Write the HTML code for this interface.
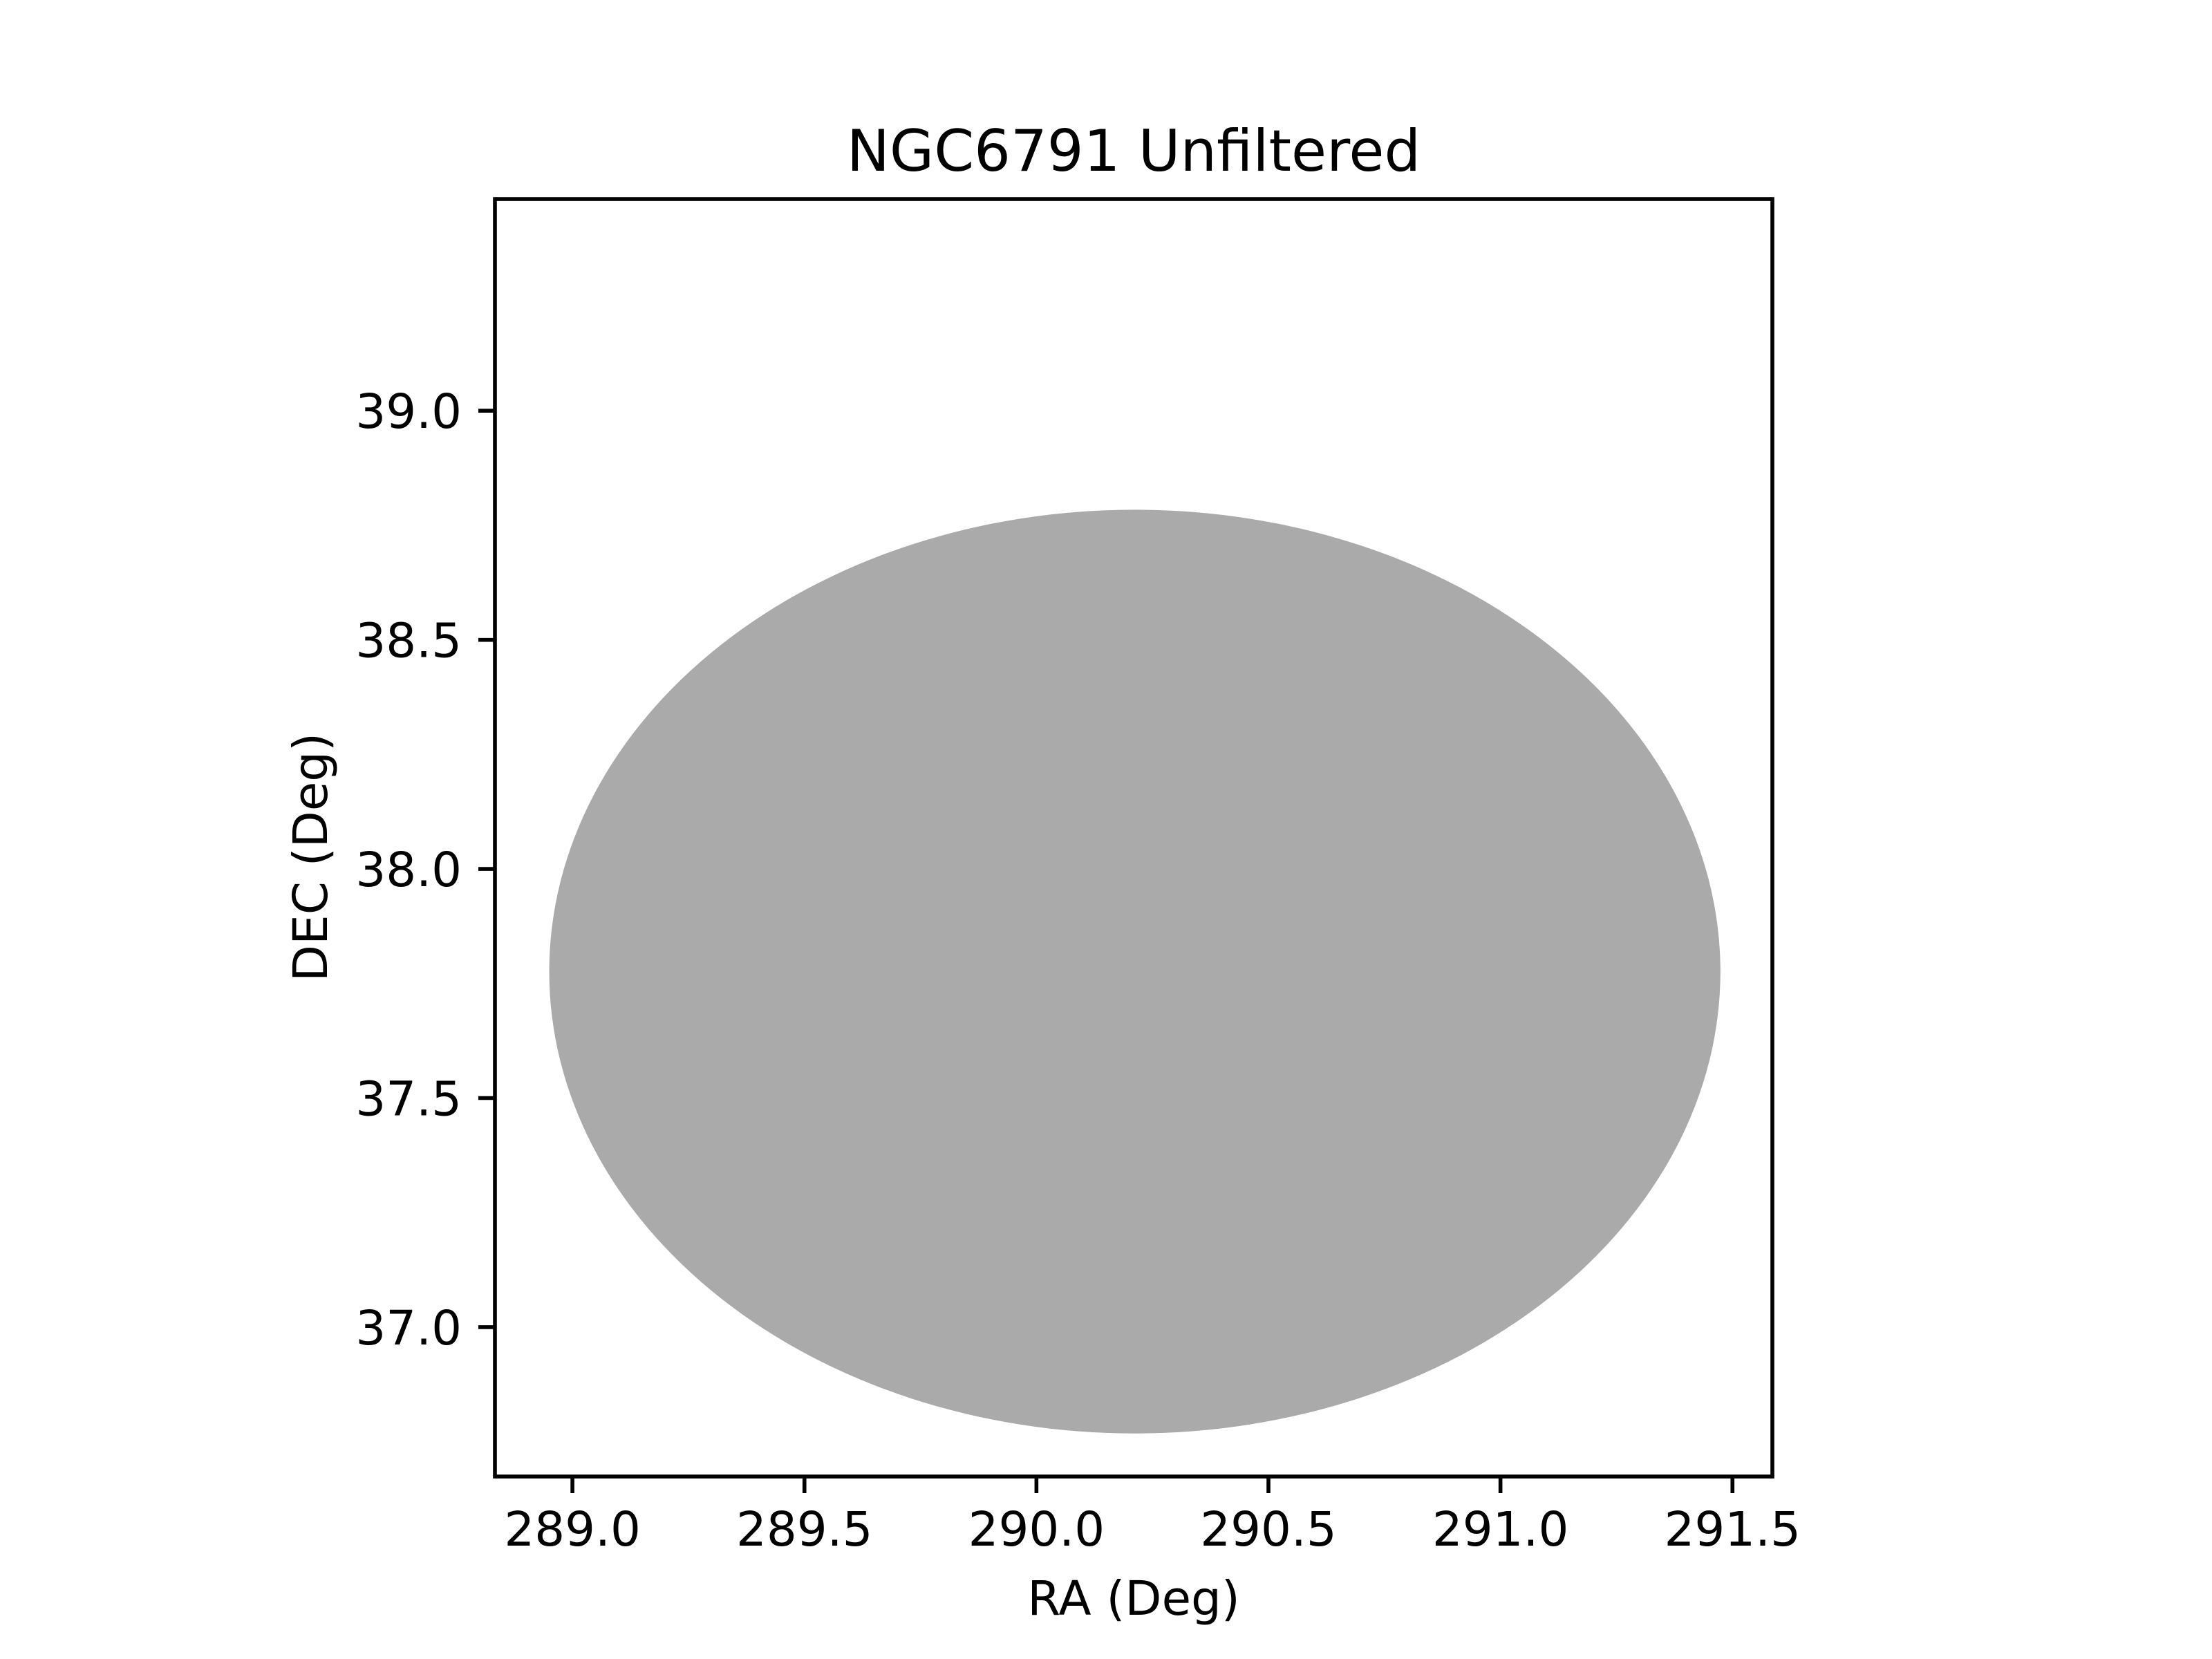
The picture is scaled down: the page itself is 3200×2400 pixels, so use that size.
<!DOCTYPE html>
<html><head><meta charset="utf-8"><style>
html,body{margin:0;padding:0;background:#fff;}
svg{display:block;}
text{font-family:"DejaVu Sans","Liberation Sans",sans-serif;fill:#000;}
</style></head><body>
<svg id="chart" width="3200" height="2400" viewBox="0 0 3200 2400" xmlns="http://www.w3.org/2000/svg">
<rect width="3200" height="2400" fill="#fff"/>
<g id="plot"></g>
<g id="axes"></g>
<text x="1640" y="247" font-size="83" text-anchor="middle">NGC6791 Unfiltered</text>
<text x="1640" y="2336" font-size="69" text-anchor="middle">RA (Deg)</text>
<text transform="translate(473,1240) rotate(-90)" x="0" y="0" font-size="69" text-anchor="middle">DEC (Deg)</text>
</svg>
<script>
const xTicks = [289.0, 289.5, 290.0, 290.5, 291.0, 291.5];
const xTickLabels = ["289.0", "289.5", "290.0", "290.5", "291.0", "291.5"];
const yTicks = [37.0, 37.5, 38.0, 38.5, 39.0];
const yTickLabels = ["37.0", "37.5", "38.0", "38.5", "39.0"];
const fieldCenter = [290.212, 37.776];
const fieldRadius = [1.262, 1.008];
const xDomain = [288.833, 291.586];
const yDomain = [36.674, 39.462];

const L = 716, R = 2564, T = 288, B = 2136;
const NS = 'http://www.w3.org/2000/svg';
function sx(v){ return L + (v - xDomain[0]) / (xDomain[1] - xDomain[0]) * (R - L); }
function sy(v){ return B - (v - yDomain[0]) / (yDomain[1] - yDomain[0]) * (B - T); }
function mk(tag, attrs, parent){
  const e = document.createElementNS(NS, tag);
  for (const k in attrs) e.setAttribute(k, attrs[k]);
  parent.appendChild(e);
  return e;
}
const plot = document.getElementById('plot');
const axes = document.getElementById('axes');

const ell = mk('ellipse', {
  cx: sx(fieldCenter[0]), cy: sy(fieldCenter[1]),
  rx: sx(fieldCenter[0] + fieldRadius[0]) - sx(fieldCenter[0]),
  ry: sy(fieldCenter[1]) - sy(fieldCenter[1] + fieldRadius[1]),
  fill: '#aaaaaa'
}, plot);



const frame = mk('rect', {x: L, y: T, width: R - L, height: B - T, fill: 'none', stroke: '#000', 'stroke-width': 5.6}, axes);



xTicks.forEach(function(v, i){
  const x = sx(v);
  const t = mk('line', {x1: x, x2: x, y1: B, y2: B + 24, stroke: '#000', 'stroke-width': 5.6}, axes);
  
  
  const lb = mk('text', {x: x, y: B + 24 + 24 + 52, 'font-size': 69, 'text-anchor': 'middle'}, axes);
  lb.textContent = xTickLabels[i];
  
  
});
yTicks.forEach(function(v, i){
  const y = sy(v);
  const t = mk('line', {x1: L - 24, x2: L, y1: y, y2: y, stroke: '#000', 'stroke-width': 5.6}, axes);
  
  
  const lb = mk('text', {x: L - 48, y: y + 25, 'font-size': 69, 'text-anchor': 'end'}, axes);
  lb.textContent = yTickLabels[i];
  
  
});
</script>
</body></html>
